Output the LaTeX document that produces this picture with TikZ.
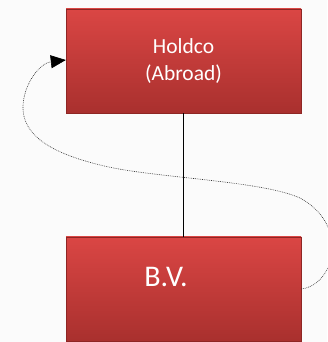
\documentclass[tikz,border=0pt]{standalone}
\usepackage{fontspec}
\setmainfont{Carlito}
\usepackage{tikz}
\usetikzlibrary{calc,arrows.meta,shadows}
\definecolor{bg}{HTML}{FBFBFB}
\definecolor{boxtop}{HTML}{DA4644}
\definecolor{boxbot}{HTML}{A9302E}
\definecolor{rim}{HTML}{8E2624}
\tikzset{
  company/.style={rectangle, top color=boxtop, bottom color=boxbot, draw=rim, line width=0.4pt,
    minimum width=235pt, minimum height=104pt, inner sep=0pt, text=white,
    drop shadow={opacity=0.25, shadow xshift=1pt, shadow yshift=-1.5pt}},
  link/.style={draw=black, line width=0.7pt},
  loan/.style={draw=black!80, line width=0.6pt, dash pattern=on 0.8pt off 1pt,
    -{Triangle[length=15pt,width=13pt,black]}},
}

\begin{document}
\begin{tikzpicture}[x=1pt,y=1pt]
  \fill[bg] (0,0) rectangle (327,342);
  \useasboundingbox (0,0) rectangle (327,342);

  \node[company, align=center, font=\fontsize{21.5}{27}\selectfont] (holdco) at (183.5,281) {Holdco\\(Abroad)};
  \node[company] (bv) at (183.5,53) {};
  \node[text=white, font=\fontsize{30}{36}\selectfont] (bvlab) at (166,65) {B.V.};

  \draw[link] (holdco.south) -- (bv.north);

  \coordinate (c1) at (300,144);
  \coordinate (c2) at (100,177);
  \coordinate (c3) at (23,232);
  \draw[loan] (bv.east) .. controls (335,57) and (350,117) .. (c1)
    .. controls (260,162) and (150,164) .. (c2)
    .. controls (60,187) and (25,202) .. (c3)
    .. controls (22,257) and (40,279) .. ([yshift=1pt]holdco.west);
\end{tikzpicture}
\end{document}
